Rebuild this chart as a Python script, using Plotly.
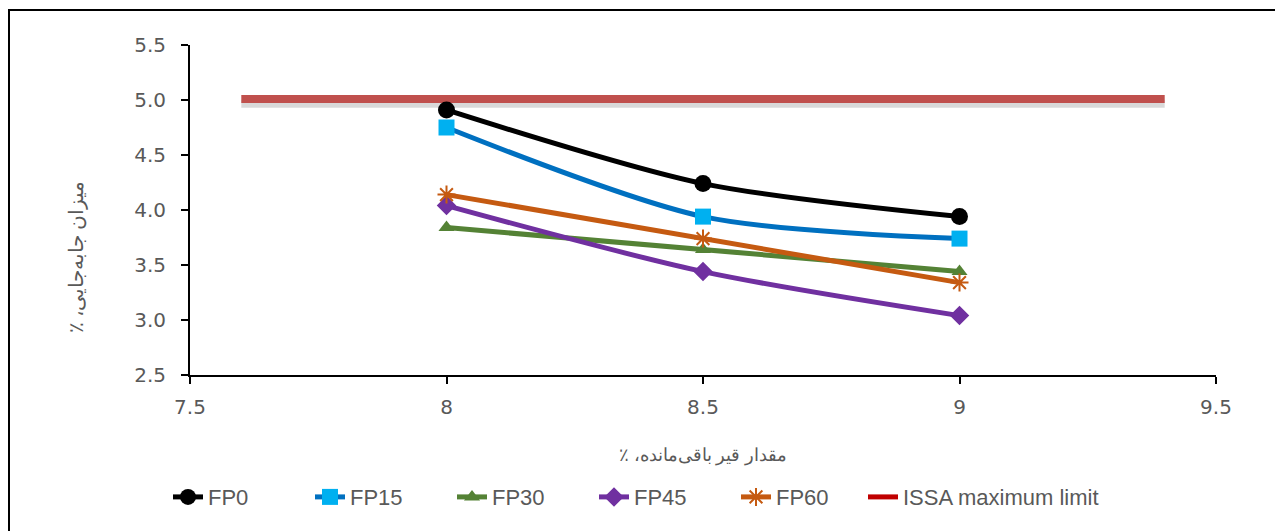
import plotly.graph_objects as go

x_vals = [8, 8.5, 9]
fp0 = [4.91, 4.24, 3.94]
fp15 = [4.75, 3.94, 3.74]
fp30 = [3.84, 3.64, 3.44]
fp45 = [4.04, 3.44, 3.04]
fp60 = [4.14, 3.74, 3.34]
issa_x = [7.6, 9.4]
issa_y = [5.0, 5.0]
issa_series_x = [8, 8.5, 9]
issa_series_y = [5.0, 5.0, 5.0]

x_ticks = [7.5, 8, 8.5, 9, 9.5]
x_tick_labels = ["7.5", "8", "8.5", "9", "9.5"]
y_ticks = [2.5, 3.0, 3.5, 4.0, 4.5, 5.0, 5.5]
y_tick_labels = ["2.5", "3.0", "3.5", "4.0", "4.5", "5.0", "5.5"]

RLM = "\u200f"
x_title = RLM + "مقدار قیر باقی\u200cمانده، ٪" + RLM
y_title = RLM + "میزان جابه\u200cجایی، ٪" + RLM

W, H = 1275, 531
L, R, T, B = 190, W - 1216, 45, H - 375
pw, ph = W - L - R, H - T - B

fig = go.Figure()

# ISSA series (legend entry), drawn beneath the thick drawn limit line
fig.add_trace(go.Scatter(x=issa_series_x, y=issa_series_y, mode="lines",
                         name="ISSA maximum limit", legend="legend2",
                         line=dict(color="#C00000", width=5)))

# shadow + thick limit line (drawn line)
fig.add_trace(go.Scatter(x=issa_x, y=[v - 0.035 for v in issa_y], mode="lines",
                         line=dict(color="rgba(0,0,0,0.15)", width=8),
                         showlegend=False, hoverinfo="skip"))
fig.add_trace(go.Scatter(x=issa_x, y=[v + 0.01 for v in issa_y], mode="lines",
                         line=dict(color="#C0504D", width=8),
                         showlegend=False, hoverinfo="skip"))

series = [
    ("FP0", fp0, "#000000", "#000000", "circle", 17, "spline"),
    ("FP15", fp15, "#0070C0", "#00B0F0", "square", 16, "spline"),
    ("FP30", fp30, "#548235", "#548235", "triangle-up", 14, "linear"),
    ("FP45", fp45, "#7030A0", "#7030A0", "diamond", 15, "spline"),
    ("FP60", fp60, "#C55A11", "#C55A11", "asterisk-open", 15, "linear"),
]
for name, ys, lc, mc, sym, sz, shape in series:
    fig.add_trace(go.Scatter(
        x=x_vals, y=ys, mode="lines+markers", name=name,
        line=dict(color=lc, width=5, shape=shape, smoothing=0.8),
        marker=dict(symbol=sym, size=sz, color=mc,
                    line=dict(color=mc, width=2 if sym == "asterisk-open" else 0)),
    ))

# outer border
fig.add_shape(type="rect", xref="paper", yref="paper",
              x0=(9 - L) / pw, x1=(W + 20 - L) / pw,
              y0=(H - B - (H + 20)) / ph, y1=(H - B - 10) / ph,
              line=dict(color="#000000", width=2), fillcolor="rgba(0,0,0,0)",
              layer="below")

tick_font = dict(family="DejaVu Sans", size=20, color="#595959")
title_font = dict(family="Noto Sans", size=18, color="#595959")
legend_font = dict(family="Liberation Sans", size=22, color="#595959")

fig.add_annotation(xref="paper", yref="paper",
                   x=(75 - L) / pw, y=(H - B - 257) / ph,
                   text=y_title, textangle=-90, showarrow=False,
                   font=dict(family="Noto Sans", size=20, color="#595959"),
                   xanchor="center", yanchor="middle")

fig.update_layout(
    width=W, height=H,
    margin=dict(l=L, r=R, t=T, b=B),
    paper_bgcolor="white", plot_bgcolor="white",
    xaxis=dict(range=[7.5, 9.5], tickvals=x_ticks, ticktext=x_tick_labels,
               showgrid=False, zeroline=False, showline=True,
               linecolor="#000000", linewidth=2, ticks="outside",
               ticklen=7, tickwidth=2, tickcolor="#000000",
               tickfont=tick_font, ticklabelstandoff=6,
               title=dict(text=x_title, font=title_font, standoff=30)),
    yaxis=dict(range=[2.5, 5.5], tickvals=y_ticks, ticktext=y_tick_labels,
               showgrid=False, zeroline=False, showline=True,
               linecolor="#000000", linewidth=2, ticks="outside",
               ticklen=7, tickwidth=2, tickcolor="#000000",
               tickfont=tick_font, ticklabelstandoff=11),
    legend=dict(orientation="h", x=(168 - L) / pw, xanchor="left", y=-0.37, yanchor="middle",
                font=legend_font, entrywidth=97, entrywidthmode="pixels",
                tracegroupgap=0),
    legend2=dict(orientation="h", x=(863 - L) / pw, xanchor="left", y=-0.37, yanchor="middle",
                 font=legend_font),
    showlegend=True,
)

fig.write_html("out.html")
